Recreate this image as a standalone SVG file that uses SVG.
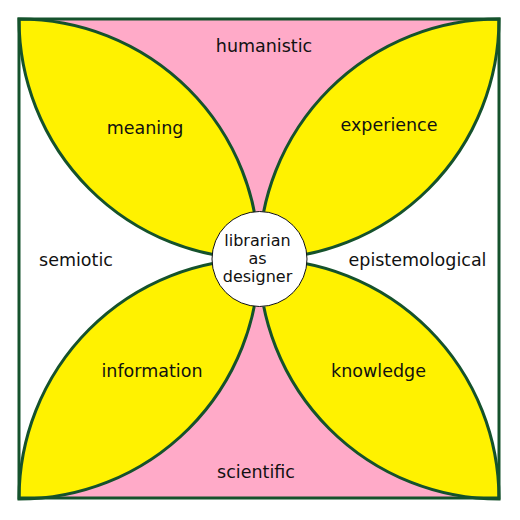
<svg xmlns="http://www.w3.org/2000/svg" width="520" height="520" viewBox="0 0 520 520">
<style>
.lbl{font-family:"DejaVu Sans",Verdana,sans-serif;font-size:17.5px;fill:#111;text-anchor:middle}
.ctr{font-family:"DejaVu Sans",Verdana,sans-serif;font-size:16px;fill:#111;text-anchor:middle}
.petal{fill:#fff200;stroke:#15522c;stroke-width:3}
</style>
<rect width="520" height="520" fill="#fff"/>
<g id="background">
<polygon points="19,19 499,19 259,259" fill="#ffaac8"/>
<polygon points="19,499 499,499 259,259" fill="#ffaac8"/>
</g>
<g id="petals">
<g id="petal-meaning"><path class="petal" d="M19,19 A240,240 0 0 1 259,259 A240,240 0 0 1 19,19 Z"/><text class="lbl" x="145" y="134">meaning</text></g>
<g id="petal-experience"><path class="petal" d="M499,19 A240,240 0 0 0 259,259 A240,240 0 0 0 499,19 Z"/><text class="lbl" x="389" y="131">experience</text></g>
<g id="petal-information"><path class="petal" d="M19,499 A240,240 0 0 0 259,259 A240,240 0 0 0 19,499 Z"/><text class="lbl" x="152" y="377">information</text></g>
<g id="petal-knowledge"><path class="petal" d="M499,499 A240,240 0 0 1 259,259 A240,240 0 0 1 499,499 Z"/><text class="lbl" x="378.5" y="377">knowledge</text></g>
</g>
<rect x="19" y="19" width="480" height="479" fill="none" stroke="#15522c" stroke-width="3"/>
<g id="humanistic"><text class="lbl" x="264" y="52">humanistic</text></g>
<g id="semiotic"><text class="lbl" x="76" y="266">semiotic</text></g>
<g id="epistemological"><text class="lbl" x="417.5" y="266">epistemological</text></g>
<g id="scientific"><text class="lbl" x="256" y="478">scientific</text></g>
<g id="center">
<circle cx="259.5" cy="259" r="47.5" fill="#fff" stroke="#111" stroke-width="1"/>
<text class="ctr" x="257.5" y="246">librarian</text>
<text class="ctr" x="257.5" y="264">as</text>
<text class="ctr" x="257.5" y="282">designer</text>
</g>
</svg>
